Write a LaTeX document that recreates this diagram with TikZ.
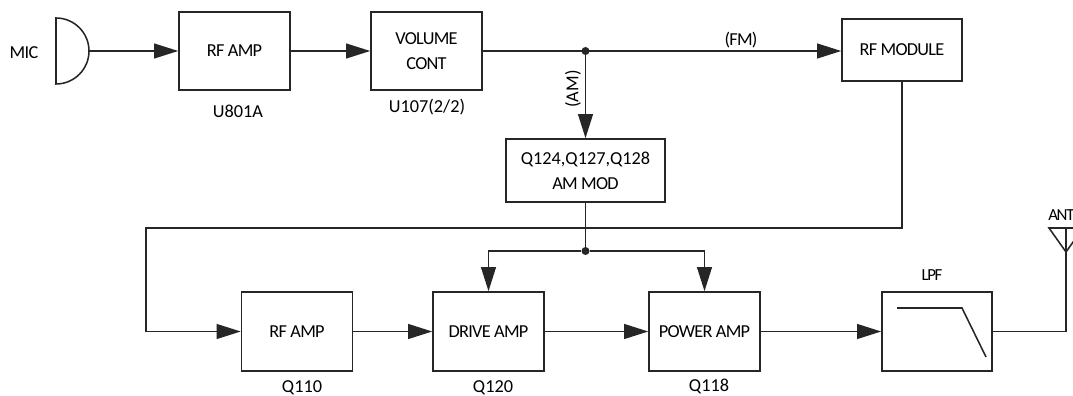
\documentclass[tikz,border=0pt]{standalone}
\usepackage{fontspec}
\setmainfont{Carlito}
\newfontfamily\capsfont[LetterSpace=-4]{Carlito}
\newfontfamily\tightfont[LetterSpace=-8]{Carlito}
\newcommand{\labelsize}{\fontsize{13}{18}\selectfont}
\usetikzlibrary{arrows.meta}

\tikzset{
	block/.style={draw=black!85, line width=1.1pt, inner sep=0pt, align=center, font=\capsfont\labelsize},
	wire/.style={draw=black!85, line width=1.1pt},
	flow/.style={wire, -{Triangle[length=6mm, width=3.7mm]}},
	junction/.style={circle, inner sep=0pt, minimum size=2mm, fill=black!85},
	caption/.style={inner sep=0pt, align=center, font=\labelsize},
	capscaption/.style={inner sep=0pt, align=center, font=\capsfont\labelsize},
	smallcaption/.style={inner sep=0pt, font=\tightfont\fontsize{12}{14}\selectfont}
}

\begin{document}
\begin{tikzpicture}[x=0.25mm, y=-0.25mm]
		\clip (0,0) rectangle (1073,396);
		% top row
		\node[block, minimum width=27.75mm, minimum height=19.6mm] (rfamptop) at (234.5,51){RF AMP};
		\node[block, minimum width=27.75mm, minimum height=19.6mm] (volume) at (426.5,51){VOLUME\\CONT};
		\node[block, minimum width=30mm, minimum height=15.5mm] (rfmodule) at (902,50){RF MODULE};
		\node[block, minimum width=39.75mm, minimum height=15.75mm] (ammod) at (585.5,170.5){{\normalfont Q124,Q127,Q128}\\AM MOD};
		% bottom row
		\node[block, minimum width=27.75mm, minimum height=19.75mm] (rfamp) at (297,331.5){RF AMP};
		\node[block, minimum width=27.75mm, minimum height=19.75mm] (drive) at (488.5,331.5){DRIVE AMP};
		\node[block, minimum width=27.75mm, minimum height=19.75mm] (power) at (704.5,331.5){POWER AMP};
		\node[block, minimum width=27.5mm, minimum height=19.75mm] (lpf) at (937,331.5){};
		\draw[wire] (897,308) -- (962,308) -- (986,357);
		% microphone
		\draw[wire] (56,18) arc[start angle=90, end angle=-90, x radius=33, y radius=-33] -- cycle;
		\coordinate (mic) at (89,51);
		% antenna
		\coordinate (ant) at (1066,252);
		\coordinate (bustop) at (902,228);
		\coordinate (busleft) at (146,228);
		\draw[wire] (1049,228) -- (1083,228) -- (ant) -- cycle;
		\draw[wire] (ant) -- (1066,228);
		% junctions
		\node[junction] (splitam) at (585.5,51){};
		\node[junction] (splitmod) at (585.5,251){};
		% connectors
		\draw[flow] (mic) -- (rfamptop);
		\draw[flow] (rfamptop) -- (volume);
		\draw[flow] (volume) -- (rfmodule.west |- volume);
		\draw[flow] (splitam) -- (ammod);
		\draw[wire] (ammod) -- (splitmod);
		\draw[flow] (splitmod) -| (drive);
		\draw[flow] (splitmod) -| (power);
		\draw[flow] (rfmodule) -- (bustop) -- (busleft) |- (rfamp);
		\draw[flow] (rfamp) -- (drive);
		\draw[flow] (drive) -- (power);
		\draw[flow] (power) -- (lpf);
		\draw[wire] (lpf) -| (ant);
		% labels
		\node[capscaption] (micname) at (24,53){MIC};
		\node[caption] (u801) at (238,111){U801A};
		\node[caption] (u107) at (427,107){U107(2/2)};
		\node[capscaption] (fm) at (741,40){(FM)};
		\node[caption, rotate=90] (am) at (573,89){(AM)};
		\node[caption] (q110) at (302,387.5){Q110};
		\node[caption] (q120) at (493,387.5){Q120};
		\node[caption] (q118) at (709,386){Q118};
		\node[smallcaption] (lpfname) at (932,275){LPF};
		\node[smallcaption, anchor=west] (antname) at (1048,215){ANT};
		\end{tikzpicture}
\end{document}
